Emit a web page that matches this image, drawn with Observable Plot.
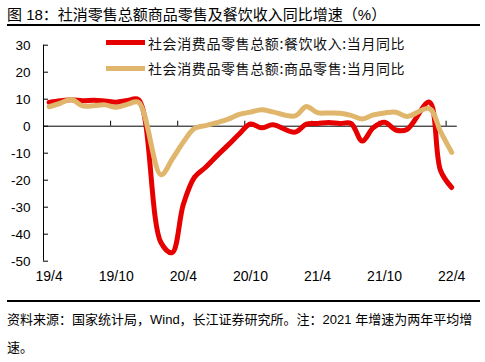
<!DOCTYPE html>
<html><head><meta charset="utf-8">
<script src="https://cdn.jsdelivr.net/npm/d3@7"></script>
<script src="https://cdn.jsdelivr.net/npm/@observablehq/plot@0.6"></script>
<style>
body{margin:0;background:#fff;font-family:"Liberation Sans","Noto Sans CJK SC",sans-serif;color:#000;}
#wrap{position:relative;width:485px;height:362px;overflow:hidden;background:#fff;}
#title{position:absolute;left:7px;top:5px;font-size:15px;line-height:20px;white-space:nowrap;font-family:"Liberation Sans","Noto Sans CJK SC",sans-serif;}
.rule{position:absolute;left:7px;width:473px;height:1.5px;background:#000;}
#chart{position:absolute;left:0;top:28px;}
.leg{position:absolute;left:106px;height:20px;line-height:20px;font-size:14px;letter-spacing:0.6px;white-space:nowrap;display:flex;align-items:center;color:#111;font-family:"Noto Sans CJK SC",sans-serif;}
.sw{display:inline-block;width:39px;height:5px;margin-right:3px;}
.foot{position:absolute;left:7px;font-size:13px;line-height:20px;white-space:nowrap;font-family:"Liberation Sans","Noto Sans CJK SC",sans-serif;}
</style></head><body>
<div id="wrap">
  <div id="title"></div>
  <div class="rule" style="top:24.3px"></div>
  <div id="chart"></div>
  <div class="leg" id="leg0" style="top:32.7px"><span class="sw"></span><span class="lt"></span></div>
  <div class="leg" id="leg1" style="top:58.3px"><span class="sw"></span><span class="lt"></span></div>
  <div class="rule" style="top:300px"></div>
  <div class="foot" id="foot1" style="top:310px"></div>
  <div class="foot" id="foot2" style="top:338px"></div>
</div>
<script>
const titleText = "图 18：社消零售总额商品零售及餐饮收入同比增速（%）";
const sourceLine1 = "资料来源：国家统计局，Wind，长江证券研究所。注：2021 年增速为两年平均增";
const sourceLine2 = "速。";
const seriesNames = ["社会消费品零售总额:餐饮收入:当月同比", "社会消费品零售总额:商品零售:当月同比"];
const seriesColors = ["#e60000", "#dfb66b"];

const months = [
  "2019-04","2019-05","2019-06","2019-07","2019-08","2019-09","2019-10","2019-11","2019-12",
  "2020-02","2020-03","2020-04","2020-05","2020-06","2020-07","2020-08","2020-09","2020-10","2020-11","2020-12",
  "2021-02","2021-03","2021-04","2021-05","2021-06","2021-07","2021-08","2021-09","2021-10","2021-11","2021-12",
  "2022-02","2022-03","2022-04"
];
const catering = [
  8.8, 9.4, 9.8, 9.4, 9.6, 9.3, 8.9, 9.5, 9.8,
  -43.1, -46.8, -29.0, -18.9, -15.2, -11.0, -7.0, -2.9, 0.8, -0.6, 0.5,
  -2.2, 0.8, 1.0, 1.4, 1.0, 1.0, -5.5, -0.5, 1.5, -1.4, -1.2,
  8.9, -16.4, -22.7
];
const goods = [
  7.2, 8.5, 9.9, 7.5, 7.6, 7.9, 7.0, 8.1, 8.8,
  -18.0, -12.3, -5.9, -0.8, 0.2, 1.3, 2.6, 4.4, 5.2, 6.1, 5.3,
  3.8, 7.3, 5.0, 4.9, 4.8, 4.0, 2.7, 4.2, 4.9, 5.2, 3.6,
  6.5, -2.0, -9.7
];
const xTickLabels = ["19/4","19/10","20/4","20/10","21/4","21/10","22/4"];
const yTicks = [30, 20, 10, 0, -10, -20, -30, -40, -50];

// month index from 2019-04
const toIdx = m => { const [y, mo] = m.split("-").map(Number); return (y - 2019) * 12 + (mo - 4); };
const data = months.map((m, i) => ({idx: toIdx(m), catering: catering[i], goods: goods[i]}));
const nMonths = 37;
const labelPos = xTickLabels.map((d, i) => i * 6);
const boundaries = labelPos.slice(1).map(p => p - 0.5);

document.getElementById("title").textContent = titleText;
document.getElementById("foot1").textContent = sourceLine1;
document.getElementById("foot2").textContent = sourceLine2;
["leg0","leg1"].forEach((id, i) => {
  const el = document.getElementById(id);
  el.querySelector(".sw").style.background = seriesColors[i];
  el.querySelector(".lt").textContent = seriesNames[i];
});

const W = 485, H = 272, mL = 43, mR = 28.2, mT = 16.7, mB = 39.3;
const pxPerMonth = (W - mL - mR) / nMonths;
const pxPerUnit = (H - mT - mB) / 80;

const chart = Plot.plot({
  width: W, height: H,
  marginLeft: mL, marginRight: mR, marginTop: mT, marginBottom: mB,
  x: {domain: [-0.5, nMonths - 0.5], axis: null},
  y: {domain: [-50, 30], axis: null},
  style: {fontFamily: '"Liberation Sans", Arial, sans-serif', fontSize: "13.5px", color: "#000", background: "transparent", overflow: "visible"},
  marks: [
    Plot.ruleY([0], {x1: -0.5, x2: nMonths - 0.5, stroke: "#000", strokeWidth: 1}),
    Plot.ruleX(boundaries, {y1: 0, y2: 5 / pxPerUnit, stroke: "#000", strokeWidth: 1}),
    Plot.ruleX([-0.5], {y1: -50, y2: 30, stroke: "#000", strokeWidth: 1}),
    Plot.ruleY(yTicks, {x1: -0.5, x2: -0.5 + 5 / pxPerMonth, stroke: "#000", strokeWidth: 1}),
    Plot.axisY({ticks: yTicks, tickSize: 0, tickPadding: 13, label: null, fontSize: 13.5, tickFormat: d => String(d)}),
    Plot.text(xTickLabels, {x: (d, i) => labelPos[i], frameAnchor: "bottom", dy: 19.3, text: d => d, fontSize: 14, fill: "#000"}),
    Plot.line(data, {x: "idx", y: "catering", stroke: seriesColors[0], strokeWidth: 5, curve: "catmull-rom"}),
    Plot.line(data, {x: "idx", y: "goods", stroke: seriesColors[1], strokeWidth: 5, curve: "catmull-rom"})
  ]
});
document.getElementById("chart").appendChild(chart);
</script>
</body></html>
